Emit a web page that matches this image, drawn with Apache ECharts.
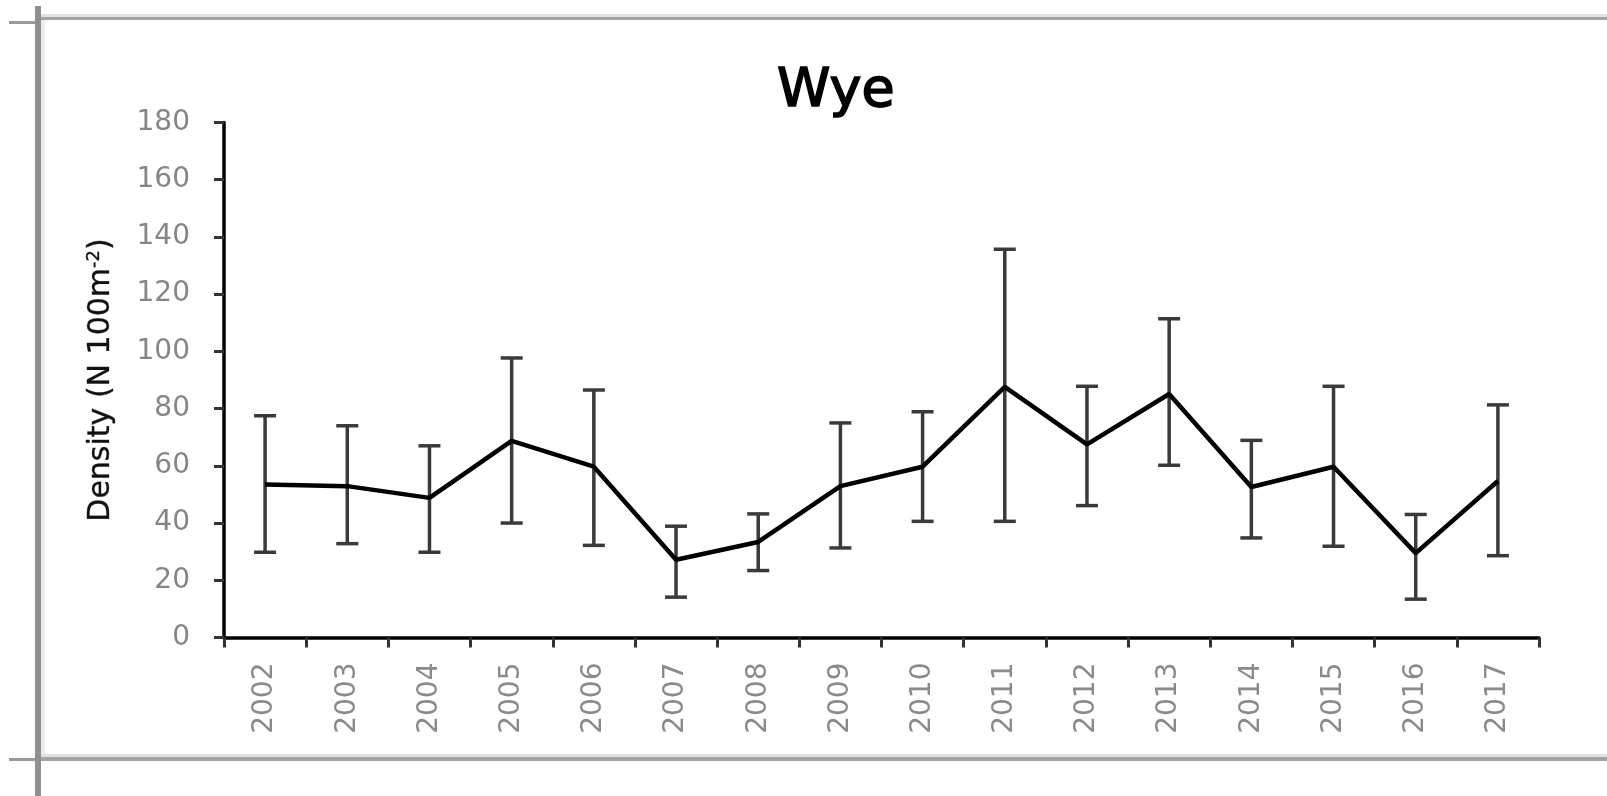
<!DOCTYPE html>
<html>
<head>
<meta charset="utf-8">
<script src="https://cdn.jsdelivr.net/npm/echarts@6/dist/echarts.min.js"></script>
<style>
html,body{margin:0;padding:0;background:#fff;}
#chart{width:1607px;height:796px;}
</style>
</head>
<body>
<div id="chart"></div>
<script>
const chartTitle = 'Wye';
const years = ['2002','2003','2004','2005','2006','2007','2008','2009','2010','2011','2012','2013','2014','2015','2016','2017'];
const densityMean  = [53.5, 52.9, 48.8, 68.7, 59.7, 27.2, 33.4, 52.9, 59.7, 87.6, 67.5, 85.1, 52.6, 59.7, 29.5, 54.7];
const densityUpper = [77.5, 74.0, 67.0, 97.7, 86.5, 38.9, 43.2, 75.0, 78.9, 135.7, 87.8, 111.4, 68.9, 87.8, 43.0, 81.3];
const densityLower = [29.8, 32.8, 29.8, 40.0, 32.2, 14.1, 23.4, 31.3, 40.6, 40.6, 46.1, 60.2, 34.8, 31.9, 13.4, 28.6];
const yTicks = { min: 0, max: 180, interval: 20 };

const FONT = 'DejaVu Sans';
const errData = years.map((y, i) => [i, densityLower[i], densityUpper[i]]);

const chart = echarts.init(document.getElementById('chart'));
chart.setOption({
  animation: false,
  backgroundColor: '#fff',
  title: {
    text: chartTitle,
    left: 772,
    top: 60,
    textStyle: { fontFamily: FONT, fontSize: 54, fontWeight: 'normal', color: '#000', lineHeight: 54,
      textBorderColor: '#000', textBorderWidth: 1.6 }
  },
  grid: { left: 224, right: 68, top: 122.5, bottom: 158.5, containLabel: false },
  xAxis: {
    type: 'category',
    data: years,
    boundaryGap: true,
    axisLine: { lineStyle: { color: '#000', width: 3.5 } },
    axisTick: { show: true, length: 10, lineStyle: { color: '#333', width: 3 } },
    axisLabel: { rotate: 90, margin: 25, fontFamily: FONT, fontSize: 28, color: '#8a8a8a' },
    splitLine: { show: false }
  },
  yAxis: {
    type: 'value',
    min: yTicks.min, max: yTicks.max, interval: yTicks.interval,
    name: 'Density (N 100m{sup|-2})',
    nameLocation: 'middle',
    nameRotate: 90,
    nameGap: 107,
    nameTextStyle: {
      fontFamily: FONT, fontSize: 30, color: '#111', lineHeight: 32,
      textBorderColor: '#333', textBorderWidth: 0.4,
      rich: { sup: { fontFamily: FONT, fontSize: 18, color: '#111', verticalAlign: 'top', lineHeight: 32 } }
    },
    axisLine: { show: true, lineStyle: { color: '#000', width: 3.5 } },
    axisTick: { show: true, length: 10, lineStyle: { color: '#333', width: 3 } },
    axisLabel: { margin: 34, fontFamily: FONT, fontSize: 28, color: '#858585' },
    splitLine: { show: false }
  },
  series: [
    {
      type: 'custom',
      name: 'error',
      data: errData,
      z: 2,
      renderItem: function (params, api) {
        const xi = api.value(0);
        const lo = api.coord([xi, api.value(1)]);
        const hi = api.coord([xi, api.value(2)]);
        const hw = 11;
        const style = { stroke: '#3a3a3a', lineWidth: 3.5 };
        return {
          type: 'group',
          children: [
            { type: 'line', shape: { x1: lo[0], y1: lo[1], x2: hi[0], y2: hi[1] }, style: style },
            { type: 'line', shape: { x1: hi[0] - hw, y1: hi[1], x2: hi[0] + hw, y2: hi[1] }, style: style },
            { type: 'line', shape: { x1: lo[0] - hw, y1: lo[1], x2: lo[0] + hw, y2: lo[1] }, style: style }
          ]
        };
      }
    },
    {
      type: 'line',
      name: 'mean',
      data: densityMean,
      z: 3,
      symbol: 'none',
      lineStyle: { color: '#000', width: 4.5 }
    }
  ],
  graphic: [
    { type: 'rect', shape: { x: 38, y: 14, width: 1569, height: 3 }, style: { fill: '#e2e2e2' } },
    { type: 'rect', shape: { x: 38, y: 17, width: 1569, height: 3 }, style: { fill: '#a3a3a3' } },
    { type: 'rect', shape: { x: 38, y: 754, width: 1569, height: 3 }, style: { fill: '#e2e2e2' } },
    { type: 'rect', shape: { x: 38, y: 757, width: 1569, height: 4 }, style: { fill: '#a3a3a3' } },
    { type: 'rect', shape: { x: 35, y: 6, width: 6, height: 790 }, style: { fill: '#8f8f8f' } },
    { type: 'rect', shape: { x: 41, y: 20, width: 4, height: 734 }, style: { fill: '#ececec' } },
    { type: 'rect', shape: { x: 9, y: 21, width: 26, height: 3 }, style: { fill: '#9a9a9a' } },
    { type: 'rect', shape: { x: 9, y: 758, width: 26, height: 3 }, style: { fill: '#9a9a9a' } }
  ]
});
</script>
</body>
</html>
